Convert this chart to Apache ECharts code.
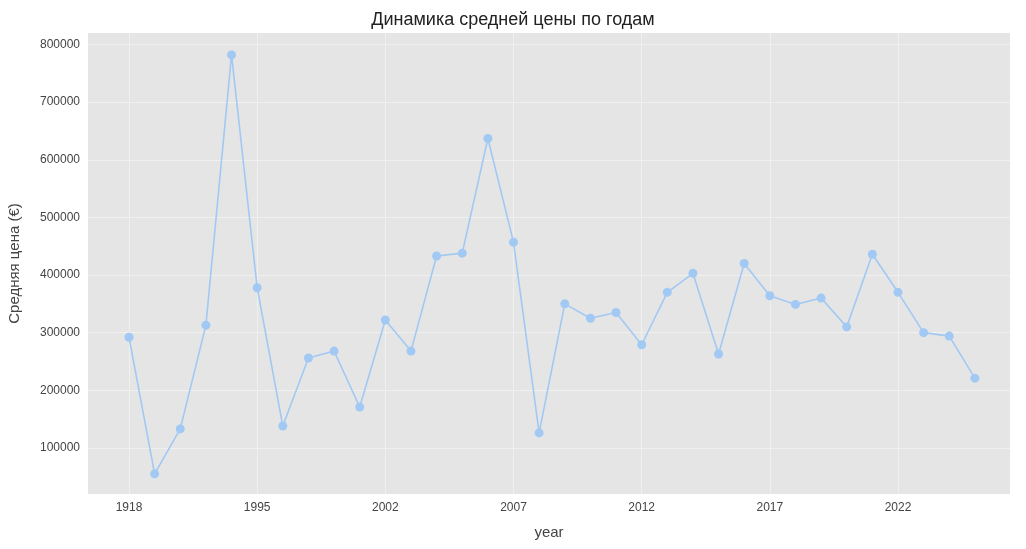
<!DOCTYPE html><html><head><meta charset="utf-8"><script src="https://cdn.jsdelivr.net/npm/echarts@6/dist/echarts.min.js"></script></head><body style="margin:0"><div id="c" style="width:1026px;height:549px"></div><script>
const years=[1918,1960,1975,1985,1990,1995,1996,1997,1998,2000,2002,2003,2004,2005,2006,2007,2008,2009,2010,2011,2012,2013,2014,2015,2016,2017,2018,2019,2020,2021,2022,2023,2024,2025];
const prices=[292000,55000,133000,313000,782000,378000,138000,256000,268000,171000,322000,268000,433000,438000,637000,457000,126000,350000,325000,335000,279000,370000,403000,263000,420000,364000,349000,360000,310000,436000,370000,300000,294000,221000];
const xTicks=[0,5,10,15,20,25,30];
const yTicks=[100000,200000,300000,400000,500000,600000,700000,800000];
const c=echarts.init(document.getElementById('c'));
const f='Liberation Sans';
c.setOption({
title:{text:'Динамика средней цены по годам',left:'center',top:6,textStyle:{fontFamily:f,fontSize:18,fontWeight:'normal',color:'#222'}},
grid:{left:88,right:16,top:33,bottom:55,backgroundColor:'#e5e5e5',show:true,borderWidth:0,containLabel:false,outerBoundsMode:'none'},
xAxis:{type:'value',min:-1.6,max:34.37,name:'year',nameLocation:'middle',nameGap:31,nameTextStyle:{fontFamily:f,fontSize:15,color:'#444'},
axisLine:{show:false},axisTick:{show:false,customValues:xTicks},
axisLabel:{customValues:xTicks,formatter:v=>years[Math.round(v)],fontFamily:f,fontSize:12,color:'#444'},
splitLine:{show:true,lineStyle:{color:'#f0f0f0'}}},
yAxis:{type:'value',min:20000,max:820000,name:'Средняя цена (€)',nameLocation:'middle',nameGap:66,nameTextStyle:{fontFamily:f,fontSize:15,color:'#444'},
axisLine:{show:false},axisTick:{show:false,customValues:yTicks},
axisLabel:{customValues:yTicks,formatter:v=>String(v),fontFamily:f,fontSize:12,color:'#444'},
splitLine:{show:true,lineStyle:{color:'#f0f0f0'}}},
series:[{type:'line',data:prices.map((v,i)=>[i,v]),symbol:'circle',symbolSize:9,itemStyle:{color:'#a1c9f4'},lineStyle:{color:'#a1c9f4',width:1.6},animation:false}]
});
</script></body></html>
